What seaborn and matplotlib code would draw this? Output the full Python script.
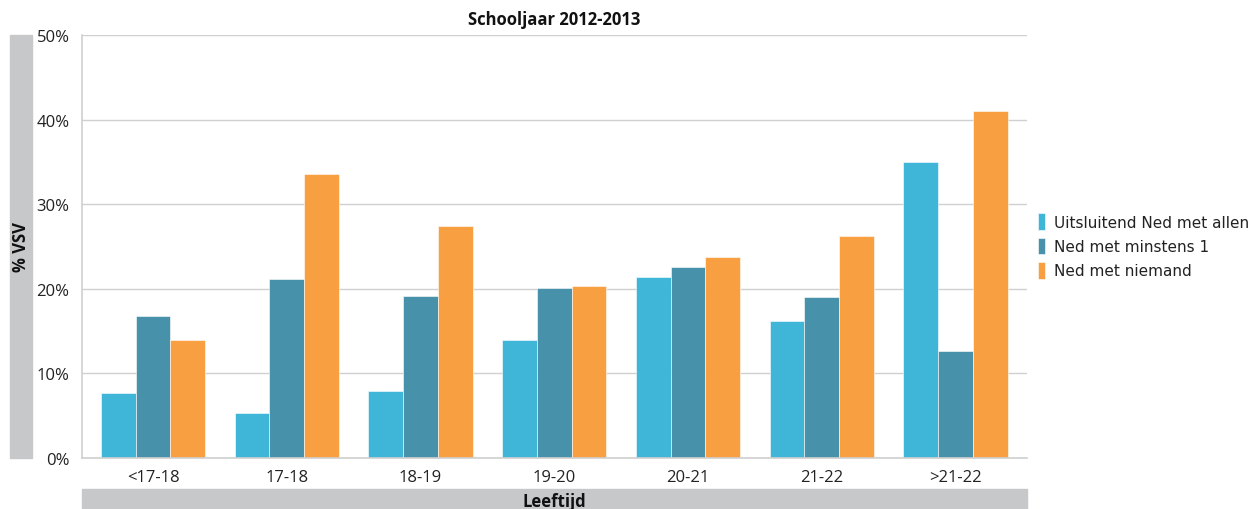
import matplotlib
matplotlib.use("Agg")
import matplotlib.pyplot as plt
import seaborn as sns
import pandas as pd
from matplotlib.patches import Rectangle
from matplotlib.ticker import FuncFormatter

categories = ["<17-18", "17-18", "18-19", "19-20", "20-21", "21-22", ">21-22"]
series_names = ["Uitsluitend Ned met allen", "Ned met minstens 1", "Ned met niemand"]
uitsluitend = [7.7, 5.3, 7.9, 13.9, 21.4, 16.2, 35.0]
minstens = [16.8, 21.2, 19.1, 20.1, 22.6, 19.0, 12.6]
niemand = [13.9, 33.6, 27.4, 20.3, 23.8, 26.2, 41.0]
colors = ["#3FB5D8", "#4891AA", "#F89F42"]

rows = []
for name, vals in zip(series_names, [uitsluitend, minstens, niemand]):
    for c, v in zip(categories, vals):
        rows.append({"Leeftijd": c, "Groep": name, "VSV": v})
df = pd.DataFrame(rows)

sns.set_theme(style="white")
plt.rcParams['font.family'] = ['Open Sans', 'DejaVu Sans']

fig = plt.figure(figsize=(12.6, 5.1), dpi=100)
ax = fig.add_axes([82/1260, 1 - 459/510, (1027 - 82)/1260, (459 - 36)/510])

sns.barplot(data=df, x="Leeftijd", y="VSV", hue="Groep", order=categories,
            hue_order=series_names, palette=colors, width=0.78,
            edgecolor="white", linewidth=0.4, saturation=1, ax=ax)

ax.set_xlim(-0.531, 6.534)
ax.set_ylim(0, 50)
ax.set_yticks([0, 10, 20, 30, 40, 50])
ax.yaxis.set_major_formatter(FuncFormatter(lambda v, p: f"{int(v)}%"))
ax.grid(axis="y", color="#D0D0D0", linewidth=1)
ax.set_axisbelow(True)
for s in ["top", "right"]:
    ax.spines[s].set_visible(False)
for s in ["left", "bottom"]:
    ax.spines[s].set_color("#D0D0D0")
    ax.spines[s].set_linewidth(1.2)
ax.tick_params(axis="both", length=0, labelsize=12, colors="#222222")
ax.tick_params(axis="y", pad=9)
ax.tick_params(axis="x", pad=8)
ax.set_xlabel("")
ax.set_ylabel("")

ax.set_title("Schooljaar 2012-2013", fontsize=12, fontweight="bold", pad=8, color="#111111")

# gray label bands
fig.patches.append(Rectangle((10/1260, 1 - 459/510), 22/1260, (459 - 36)/510,
                             transform=fig.transFigure, color="#C7C8CA", zorder=0))
fig.patches.append(Rectangle((82/1260, 0), (1027 - 82)/1260, 20/510,
                             transform=fig.transFigure, color="#C7C8CA", zorder=0))
fig.text(21/1260, 1 - 247/510, "% VSV", rotation=90, ha="center", va="center",
         fontsize=12, fontweight="bold", color="#111111")
fig.text(554/1260, 1 - 502/510, "Leeftijd", ha="center", va="center",
         fontsize=12, fontweight="bold", color="#111111")

leg = ax.legend(loc="center left", bbox_to_anchor=(0.997, 0.501), frameon=False,
                handlelength=0.45, handleheight=1.3, handletextpad=0.6,
                labelspacing=0.5, prop={"family": "DejaVu Sans", "size": 11})
for t in leg.get_texts():
    t.set_color("#222222")

fig.savefig("out.png", dpi=100)
